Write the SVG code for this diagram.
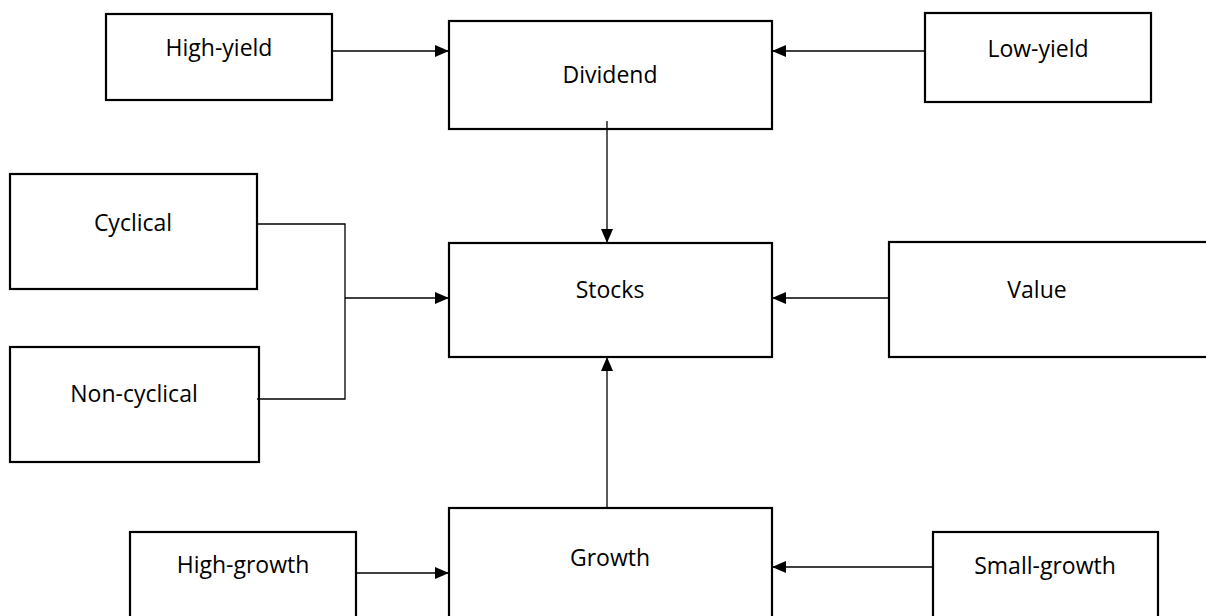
<svg xmlns="http://www.w3.org/2000/svg" width="1206" height="616" viewBox="0 0 1206 616">
<style>
.box{fill:#fff;stroke:#000;stroke-width:2.2}
.lbl{font-family:"Open Sans","Liberation Sans",sans-serif;font-size:23px;fill:#000;text-anchor:middle}
.con{fill:none;stroke:#000;stroke-width:1.3}
</style>
<defs>
<marker id="ah" markerWidth="14" markerHeight="12" refX="14" refY="6" orient="auto" markerUnits="userSpaceOnUse">
<path d="M0,0 L14,6 L0,12 Z" fill="#000"/>
</marker>
</defs>
<g id="high-yield"><rect class="box" x="106" y="14" width="226" height="86"/><text class="lbl" x="219" y="56">High-yield</text></g>
<g id="dividend"><rect class="box" x="449" y="21" width="323" height="108"/><text class="lbl" x="610" y="83">Dividend</text></g>
<g id="low-yield"><rect class="box" x="925" y="13" width="226" height="89"/><text class="lbl" x="1038" y="57">Low-yield</text></g>
<g id="cyclical"><rect class="box" x="10" y="174" width="247" height="115"/><text class="lbl" x="133" y="231">Cyclical</text></g>
<g id="non-cyclical"><rect class="box" x="10" y="347" width="249" height="115"/><text class="lbl" x="134" y="402">Non-cyclical</text></g>
<g id="stocks"><rect class="box" x="449" y="243" width="323" height="114"/><text class="lbl" x="610" y="298">Stocks</text></g>
<g id="value"><rect class="box" x="889" y="242" width="330" height="115"/><text class="lbl" x="1037" y="298">Value</text></g>
<g id="growth"><rect class="box" x="449" y="508" width="323" height="120"/><text class="lbl" x="610" y="566">Growth</text></g>
<g id="high-growth"><rect class="box" x="130" y="532" width="226" height="100"/><text class="lbl" x="243" y="573">High-growth</text></g>
<g id="small-growth"><rect class="box" x="933" y="532" width="225" height="100"/><text class="lbl" x="1045" y="574">Small-growth</text></g>
<g id="connectors">
<line class="con" x1="332" y1="51" x2="449" y2="51" marker-end="url(#ah)"/>
<line class="con" x1="925" y1="51" x2="772" y2="51" marker-end="url(#ah)"/>
<line class="con" x1="607" y1="121" x2="607" y2="243" marker-end="url(#ah)"/>
<polyline class="con" points="257,224 345,224 345,399 257,399"/>
<line class="con" x1="345" y1="298" x2="449" y2="298" marker-end="url(#ah)"/>
<line class="con" x1="889" y1="298" x2="772" y2="298" marker-end="url(#ah)"/>
<line class="con" x1="607" y1="508" x2="607" y2="357" marker-end="url(#ah)"/>
<line class="con" x1="356" y1="573" x2="449" y2="573" marker-end="url(#ah)"/>
<line class="con" x1="933" y1="567" x2="772" y2="567" marker-end="url(#ah)"/>
</g>
</svg>
